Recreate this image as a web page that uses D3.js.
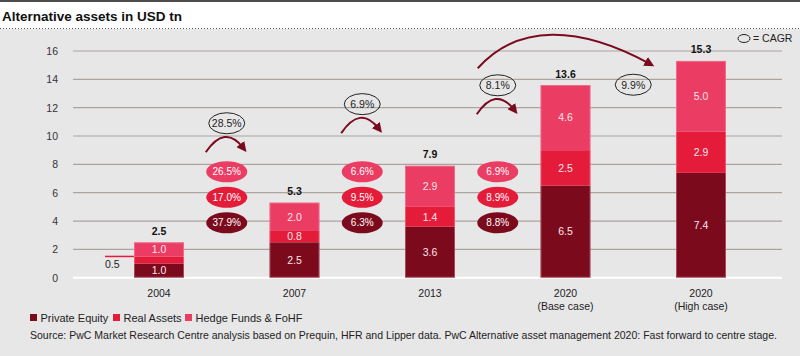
<!DOCTYPE html>
<html><head><meta charset="utf-8">
<script src="https://cdn.jsdelivr.net/npm/d3@7"></script>
<style>
html,body{margin:0;padding:0;background:#fff;}
svg{display:block;font-family:"Liberation Sans",Arial,sans-serif;}
</style></head>
<body>
<svg id="c" width="800" height="356"></svg>
<script>
// ---- data ----
const categories = ["2004", "2007", "2013", "2020 (Base case)", "2020 (High case)"];
const categoryLines = [["2004"], ["2007"], ["2013"], ["2020", "(Base case)"], ["2020", "(High case)"]];
const privateEquity = [1.0, 2.5, 3.6, 6.5, 7.4];
const realAssets = [0.5, 0.8, 1.4, 2.5, 2.9];
const hedgeFunds = [1.0, 2.0, 2.9, 4.6, 5.0];
const totals = [2.5, 5.3, 7.9, 13.6, 15.3];
const yTicks = [0, 2, 4, 6, 8, 10, 12, 14, 16];
// segment CAGR between consecutive periods
const cagrHedge = ["26.5%", "6.6%", "6.9%"];
const cagrReal = ["17.0%", "9.5%", "8.9%"];
const cagrPE = ["37.9%", "6.3%", "8.8%"];
// overall CAGR
const cagrTotal = ["28.5%", "6.9%", "8.1%", "9.9%"];
const seriesNames = ["Private Equity", "Real Assets", "Hedge Funds & FoHF"];
const seriesColors = ["#7b0a1d", "#e41c3a", "#eb3c64"];
const title = "Alternative assets in USD tn";
const source = "Source: PwC Market Research Centre analysis based on Prequin, HFR and Lipper data. PwC Alternative asset management 2020: Fast forward to centre stage.";

// ---- layout ----
const svg = d3.select("#c");
const W = 800, H = 356;
const FS = 10.5;
const y = d3.scaleLinear().domain([0, 16]).range([277.7, 51]);
const x = d3.scalePoint().domain(categories).range([159, 701]);
const barW = 50;
const gx0 = 73, gx1 = 782;
const arrowCol = "#7a0a1e";

// backgrounds
svg.append("rect").attr("x", 0).attr("y", 0).attr("width", W).attr("height", H).attr("fill", "#fff");
svg.append("rect").attr("x", 0).attr("y", 29).attr("width", W).attr("height", H - 29).attr("fill", "#e8e7e8");
svg.append("rect").attr("x", 0).attr("y", 0).attr("width", W).attr("height", 2).attr("fill", "#4d4d4d");
svg.append("line").attr("x1", 0).attr("x2", W).attr("y1", 28.5).attr("y2", 28.5)
  .attr("stroke", "#555").attr("stroke-width", 1).attr("stroke-dasharray", "1,2");

function fitText(sel, width) {
  const n = sel.node();
  const fs = parseFloat(sel.attr("font-size"));
  const w = n.getComputedTextLength();
  sel.attr("font-size", (fs * width / w).toFixed(2));
}

// title
const t = svg.append("text").attr("x", 2).attr("y", 21).attr("font-size", 14)
  .attr("font-weight", "bold").attr("fill", "#111").text(title);
fitText(t, 180);

// grid
svg.append("g").selectAll("line").data(yTicks.filter(d => d > 0)).join("line")
  .attr("x1", gx0).attr("x2", gx1).attr("y1", d => y(d)).attr("y2", d => y(d))
  .attr("stroke", "#aaa39f").attr("stroke-width", 1.2);
svg.append("line").attr("x1", gx0).attr("x2", gx1).attr("y1", y(0)).attr("y2", y(0))
  .attr("stroke", "#fff").attr("stroke-width", 2);

// y axis labels
const yAxis = d3.axisLeft(y).tickValues(yTicks).tickSize(0).tickPadding(0).tickFormat(d3.format("d"));
const ya = svg.append("g").attr("transform", "translate(58,0)").call(yAxis);
ya.select(".domain").remove();
ya.selectAll("text").attr("font-size", FS).attr("fill", "#333").attr("font-family", "Liberation Sans, Arial, sans-serif");

// stacked bars
const rows = categories.map((c, i) => ({ cat: c, pe: privateEquity[i], ra: realAssets[i], hf: hedgeFunds[i] }));
const stack = d3.stack().keys(["pe", "ra", "hf"])(rows);
const g = svg.append("g");
stack.forEach((layer, li) => {
  g.append("g").selectAll("rect").data(layer).join("rect")
    .attr("x", d => x(d.data.cat) - barW / 2)
    .attr("width", barW)
    .attr("y", d => y(d[1]))
    .attr("height", d => y(d[0]) - y(d[1]))
    .attr("fill", seriesColors[li]);
});
// subtle light outline on bars
g.append("g").selectAll("rect").data(rows).join("rect")
  .attr("x", (d) => x(d.cat) - barW / 2 + 0.5).attr("width", barW - 1)
  .attr("y", (d, i) => y(totals[i]) + 0.5).attr("height", (d, i) => y(0) - y(totals[i]) - 1)
  .attr("fill", "none").attr("stroke", "rgba(255,190,205,0.35)").attr("stroke-width", 1);
stack.forEach((layer, li) => {
  g.append("g").selectAll("text").data(layer.filter((d, i) => !(li === 1 && i === 0))).join("text")
    .attr("x", d => x(d.data.cat))
    .attr("y", d => y((d[0] + d[1]) / 2))
    .attr("dy", "0.36em")
    .attr("text-anchor", "middle")
    .attr("font-size", FS)
    .attr("fill", "#fbe6ea")
    .text(d => d3.format(".1f")(d[1] - d[0]));
});

// totals
svg.append("g").selectAll("text").data(categories).join("text")
  .attr("x", d => x(d)).attr("y", (d, i) => y(totals[i]) - 7.5)
  .attr("text-anchor", "middle").attr("font-size", FS).attr("font-weight", "bold").attr("fill", "#111")
  .text((d, i) => d3.format(".1f")(totals[i]));

// 2004 real assets external label
const firstCat = categories[0];
svg.append("line").attr("x1", x(firstCat) - barW / 2 - 29).attr("x2", x(firstCat) - barW / 2)
  .attr("y1", y(privateEquity[0] + realAssets[0])).attr("y2", y(privateEquity[0] + realAssets[0]))
  .attr("stroke", seriesColors[1]).attr("stroke-width", 1.5);
svg.append("text").attr("x", x(firstCat) - barW / 2 - 29).attr("y", 268)
  .attr("font-size", FS).attr("fill", "#222").text(d3.format(".1f")(realAssets[0]));

// x labels
const xl = svg.append("g").selectAll("text").data(categories).join("text")
  .attr("x", d => x(d)).attr("y", 297).attr("text-anchor", "middle")
  .attr("font-size", FS).attr("fill", "#222");
xl.each(function (d, i) {
  d3.select(this).selectAll("tspan").data(categoryLines[i]).join("tspan")
    .attr("x", x(d)).attr("dy", (s, j) => j === 0 ? 0 : 12.5).text(s => s);
});

// segment CAGR ellipses
const mids = d3.range(3).map(i => (x(categories[i]) + x(categories[i + 1])) / 2);
const cagrRows = [
  { vals: cagrHedge, v: 7.48, col: seriesColors[2] },
  { vals: cagrReal, v: 5.67, col: seriesColors[1] },
  { vals: cagrPE, v: 3.87, col: seriesColors[0] }
];
cagrRows.forEach(r => {
  const gg = svg.append("g");
  gg.selectAll("ellipse").data(r.vals).join("ellipse")
    .attr("cx", (d, i) => mids[i]).attr("cy", y(r.v)).attr("rx", 20.5).attr("ry", 10.5).attr("fill", r.col);
  gg.selectAll("text").data(r.vals).join("text")
    .attr("x", (d, i) => mids[i]).attr("y", y(r.v)).attr("dy", "0.36em").attr("text-anchor", "middle")
    .attr("font-size", 10).attr("fill", "#fff").text(d => d);
});

// arrow marker
svg.append("defs").append("marker").attr("id", "ah")
  .attr("viewBox", "0 0 10 10").attr("refX", 4).attr("refY", 5)
  .attr("markerWidth", 5).attr("markerHeight", 5).attr("markerUnits", "strokeWidth")
  .attr("orient", "auto")
  .append("path").attr("d", "M0,0 L10,5 L0,10 Z").attr("fill", arrowCol);

// overall CAGR ellipses
const totalPos = [
  { cx: mids[0], v: 10.9 },
  { cx: mids[1], v: 12.25 },
  { cx: mids[2], v: 13.58 },
  { cx: (x(categories[3]) + x(categories[4])) / 2, v: 13.62 }
];
const og = svg.append("g");
og.selectAll("ellipse").data(cagrTotal).join("ellipse")
  .attr("cx", (d, i) => totalPos[i].cx).attr("cy", (d, i) => y(totalPos[i].v))
  .attr("rx", 18).attr("ry", 10.5).attr("fill", "none").attr("stroke", "#222").attr("stroke-width", 1);
og.selectAll("text").data(cagrTotal).join("text")
  .attr("x", (d, i) => totalPos[i].cx).attr("y", (d, i) => y(totalPos[i].v)).attr("dy", "0.36em")
  .attr("text-anchor", "middle").attr("font-size", FS).attr("fill", "#222").text(d => d);

// small arcs under the first three
totalPos.slice(0, 3).forEach(p => {
  const cy = y(p.v);
  const x0 = p.cx - 21, y0 = cy + 29, x1 = p.cx + 16, y1 = cy + 24;
  svg.append("path")
    .attr("d", `M${x0},${y0} Q${p.cx - 2},${cy + 1} ${x1},${y1}`)
    .attr("fill", "none").attr("stroke", arrowCol).attr("stroke-width", 2)
    .attr("marker-end", "url(#ah)");
});
// big arc 2013 -> 2020 high case
{
  const p = totalPos[2];
  const cy = y(p.v);
  const x0 = p.cx - 20, y0 = cy - 17;
  const x1 = x(categories[4]) - 52, y1 = cy - 22;
  svg.append("path")
    .attr("d", `M${x0},${y0} C${x0 + 40},${cy - 62} ${x1 - 70},${cy - 60} ${x1},${y1}`)
    .attr("fill", "none").attr("stroke", arrowCol).attr("stroke-width", 2)
    .attr("marker-end", "url(#ah)");
}

// CAGR key
svg.append("ellipse").attr("cx", 744).attr("cy", 38.5).attr("rx", 6).attr("ry", 4)
  .attr("fill", "none").attr("stroke", "#222").attr("stroke-width", 1);
svg.append("text").attr("x", 753).attr("y", 42.3).attr("font-size", FS).attr("fill", "#222").text("= CAGR");

// legend
const lg = svg.append("g");
const legX = [30, 113, 185];
seriesNames.forEach((n, i) => {
  lg.append("rect").attr("x", legX[i]).attr("y", 314).attr("width", 7).attr("height", 7).attr("fill", seriesColors[i]);
  lg.append("text").attr("x", legX[i] + 10.5).attr("y", 321.5).attr("font-size", 11).attr("fill", "#222").text(n);
});

// source
const s = svg.append("text").attr("x", 30).attr("y", 339).attr("font-size", 11).attr("fill", "#222").text(source);
fitText(s, 748);
</script>
</body></html>
